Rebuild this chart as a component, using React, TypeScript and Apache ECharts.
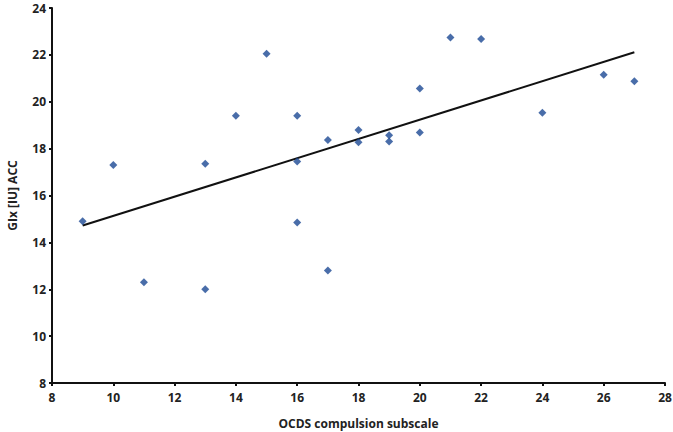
import React, { useEffect, useRef } from "react";
import * as echarts from "echarts";

const xValues = [9, 10, 11, 13, 13, 14, 15, 16, 16, 16, 17, 17, 18, 18, 19, 19, 20, 20, 21, 22, 24, 26, 27];
const yValues = [14.9, 17.3, 12.3, 17.35, 12.0, 19.4, 22.05, 19.4, 17.45, 14.85, 18.37, 12.8, 18.8, 18.27, 18.57, 18.3, 20.57, 18.69, 22.74, 22.68, 19.53, 21.15, 20.88];
const trendX = [9, 27];
const trendY = [14.72, 22.11];

const xAxisName = "OCDS compulsion subscale";
const yAxisName = "GIx [IU] ACC";

export default function App() {
  const ref = useRef<HTMLDivElement>(null);
  useEffect(() => {
    if (!ref.current) return;
    const chart = echarts.init(ref.current, null, { renderer: "svg" });
    const font = "'Open Sans', sans-serif";
    const labelStyle = { color: "#222", fontSize: 12, fontWeight: 700, fontFamily: font };
    chart.setOption({
      animation: false,
      backgroundColor: "#fff",
      grid: { left: 52, right: 8, top: 8, bottom: 49, outerBoundsMode: "none" },
      xAxis: {
        type: "value",
        min: 8,
        max: 28,
        interval: 2,
        name: xAxisName,
        nameLocation: "middle",
        nameGap: 34,
        nameTextStyle: { ...labelStyle, fontSize: 12 },
        splitLine: { show: false },
        axisLine: { lineStyle: { color: "#111", width: 2 } },
        axisTick: { show: true, length: 3, lineStyle: { color: "#111", width: 2 } },
        axisLabel: { ...labelStyle, margin: 8 },
      },
      yAxis: {
        type: "value",
        min: 8,
        max: 24,
        interval: 2,
        name: yAxisName,
        nameLocation: "middle",
        nameGap: 34,
        nameTextStyle: { ...labelStyle, fontSize: 12 },
        splitLine: { show: false },
        axisLine: { show: true, lineStyle: { color: "#111", width: 2 } },
        axisTick: { show: true, length: 3, lineStyle: { color: "#111", width: 2 } },
        axisLabel: { ...labelStyle, margin: 6, lineHeight: 12 },
      },
      series: [
        {
          type: "scatter",
          data: xValues.map((x, i) => [x, yValues[i]]),
          symbol: "diamond",
          symbolSize: 8,
          itemStyle: { color: "#1B4893" },
          z: 3,
        },
        {
          type: "line",
          data: trendX.map((x, i) => [x, trendY[i]]),
          symbol: "none",
          lineStyle: { color: "#111", width: 2 },
          z: 2,
        },
      ],
    });
    return () => chart.dispose();
  }, []);
  return <div ref={ref} style={{ position: "fixed", left: 0, top: 0, width: 673, height: 432 }} />;
}
